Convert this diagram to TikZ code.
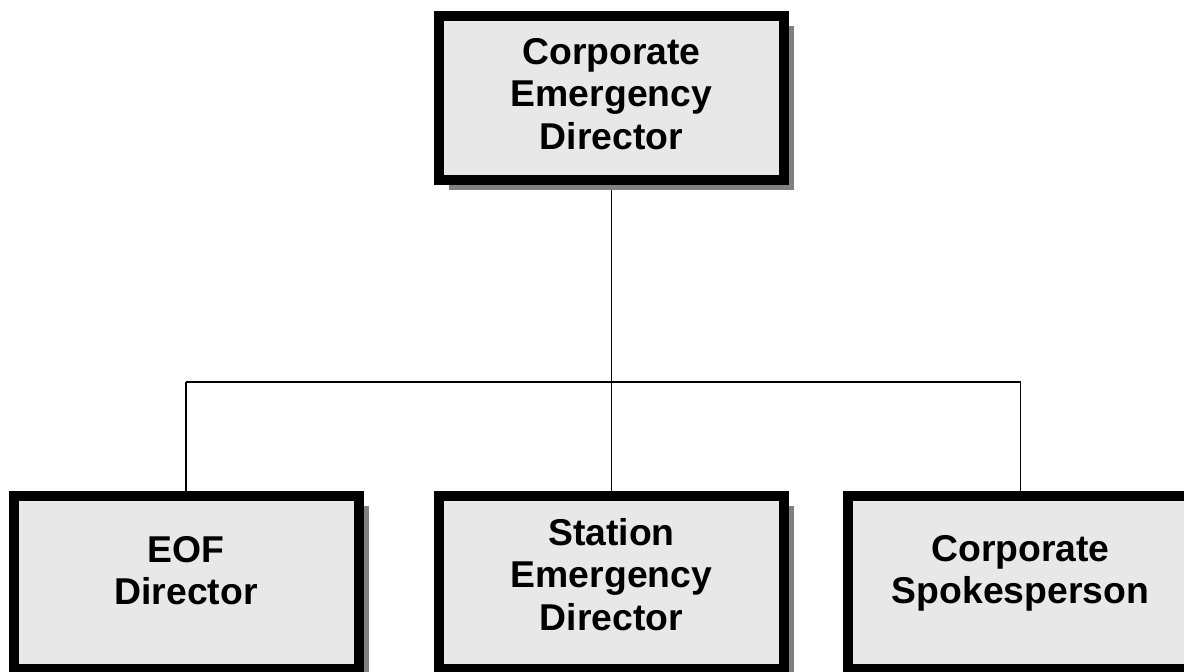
\documentclass[tikz,border=0pt]{standalone}
\usepackage{fontspec}
\setmainfont{Liberation Sans}
\usepackage{tikz}
\usetikzlibrary{calc,shadows}

\definecolor{boxfill}{HTML}{E8E8E8}
\definecolor{shadowgray}{HTML}{808080}

\begin{document}
\begin{tikzpicture}[x=0.75pt,y=-0.75pt,
    box/.style={draw=black,line width=7.5pt,fill=boxfill,minimum width=258.75pt,
      drop shadow={shadow xshift=7.5pt,shadow yshift=-7.5pt,fill=shadowgray,opacity=1}},
    topbox/.style={box,minimum height=123pt},
    lowbox/.style={box,minimum height=129.75pt},
    lbl/.style={align=center,font=\fontsize{28}{32}\selectfont\bfseries},
    link/.style={line width=1.1pt}]
                      \useasboundingbox(0,0)rectangle(1184,671);
                      % connectors first, boxes on top
                      \coordinate(hub)at(611.5,382);
                      \coordinate(hl)at(186,382);
                      \coordinate(hr)at(1020.5,382);
                      \draw[link](611.5,98)--(611.5,582.5);
                      \draw[link](hl)--(hr);
                      \draw[link](hl)--(186,582.5);
                      \draw[link](hr)--(1020.5,582.5);
                      % boxes
                      \node[topbox](ced)at(611.5,98){};
                      \node[lowbox](eof)at(186,582.5){};
                      \node[lowbox](sed)at(611.5,582.5){};
                      \node[lowbox](csp)at(1020.5,582.5){};
                      \node[lbl](cedlbl)at([yshift=3pt]ced.center){Corporate\\Emergency\\Director};
                      \node[lbl](eoflbl)at([yshift=9pt]eof.center){EOF\\Director};
                      \node[lbl](sedlbl)at([yshift=6pt]sed.center){Station\\Emergency\\Director};
                      \node[lbl](csplbl)at([yshift=7pt]csp.center){Corporate\\Spokesperson};
                  \end{tikzpicture}
\end{document}
